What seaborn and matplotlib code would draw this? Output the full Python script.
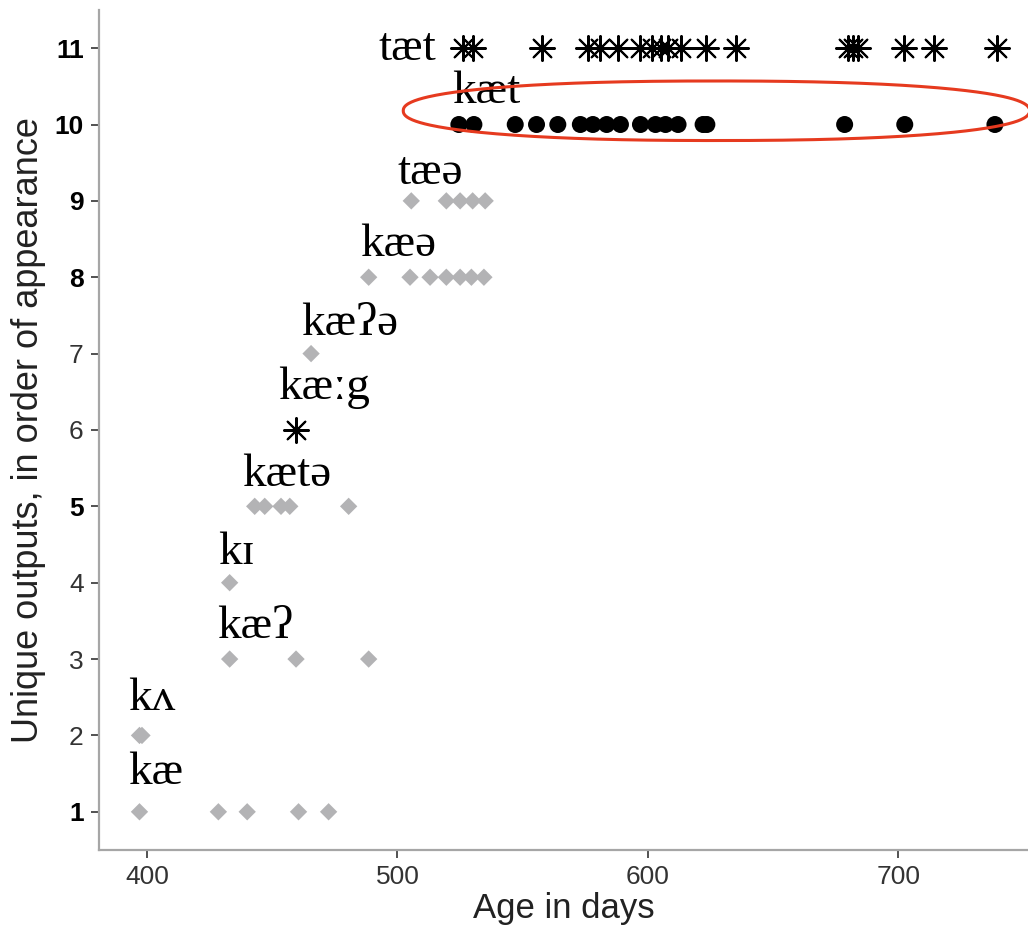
import pandas as pd
import numpy as np
import matplotlib
matplotlib.use("Agg")
import matplotlib.pyplot as plt
import seaborn as sns

# grey diamonds - earlier outputs (age in days, output number)
diamond_age = [397, 428.5, 440, 460.5, 472.5,
               397, 398,
               433, 459.5, 488.5,
               433,
               443, 447, 453.5, 457, 480.5,
               465.5,
               488.5, 505, 513, 519.5, 525, 529.5, 534.5,
               505.5, 519.5, 525, 530, 535]
diamond_out = [1, 1, 1, 1, 1,
               2, 2,
               3, 3, 3,
               4,
               5, 5, 5, 5, 5,
               7,
               8, 8, 8, 8, 8, 8, 8,
               9, 9, 9, 9, 9]

# asterisks - kæːg and tæt
star_age = [459.5,
            526, 530, 557.5, 576, 581, 588, 597, 601.5, 605, 608, 613,
            623, 635, 680, 682, 684, 702, 714, 739.5]
star_out = [6] + [11] * 19

# black dots - kæt
dot_age = [524.5, 530.5, 547, 555.5, 564, 573, 578, 583.5, 589, 597, 603,
           607, 612, 622, 623.5, 678.5, 702.5, 738.5]
dot_out = [10] * 18

# word labels
label_text = ["kæ", "kʌ", "kæʔ", "kɪ", "kætə", "kæːg", "kæʔə", "kæə", "tæə", "kæt", "tæt"]
label_x = [392.4, 392.4, 427.9, 428.4, 437.8, 452.4, 461.5, 485.0, 500.2, 521.6, 492.4]
label_y = [1.36, 2.33, 3.27, 4.25, 5.27, 6.41, 7.24, 8.28, 9.22, 10.28, 10.85]

y_ticks = [1, 2, 3, 4, 5, 6, 7, 8, 9, 10, 11]
bold_ticks = [1, 5, 8, 9, 10, 11]
x_ticks = [400, 500, 600, 700]

diamonds = pd.DataFrame({"age": diamond_age, "out": diamond_out})
stars = pd.DataFrame({"age": star_age, "out": star_out})
dots = pd.DataFrame({"age": dot_age, "out": dot_out})

sns.set_style("white")
plt.rcParams["font.family"] = ["Liberation Sans", "DejaVu Sans"]

fig = plt.figure(figsize=(10.28, 9.39), dpi=100)
ax = fig.add_axes([0.0963, 0.0948, 0.9037, 0.8946])

sns.scatterplot(data=diamonds, x="age", y="out", marker="D", s=78,
                color="#b3b3b5", edgecolor="none", ax=ax, zorder=3)
sns.scatterplot(data=dots, x="age", y="out", marker="o", s=150,
                color="black", edgecolor="none", ax=ax, zorder=3)
sns.scatterplot(data=stars, x="age", y="out", marker=(8, 2, 0), s=320,
                color="black", linewidth=1.5, ax=ax, zorder=3)

for t, x, y in zip(label_text, label_x, label_y):
    ax.text(x, y, t, ha="left", va="baseline", fontsize=34,
            family=["Liberation Serif", "DejaVu Serif"], color="black", zorder=4)

# red ring round the kæt row (slightly flattened ellipse)
th = np.linspace(0, 2 * np.pi, 400)
n = 2.3
ring_x = 627.3 + 125.0 * np.sign(np.cos(th)) * np.abs(np.cos(th)) ** (2 / n)
ring_y = 10.18 + 0.39 * np.sign(np.sin(th)) * np.abs(np.sin(th)) ** (2 / n)
ax.plot(ring_x, ring_y, color="#e63a1f", linewidth=2.2, zorder=5, clip_on=False)

ax.set_xlim(380.84, 751.7)
ax.set_ylim(0.5, 11.5)
ax.set_xticks(x_ticks)
ax.set_yticks(y_ticks)
ax.set_xticklabels([str(v) for v in x_ticks], fontsize=19, color="#333333")
ax.set_yticklabels([str(v) for v in y_ticks], fontsize=19)
for lab, v in zip(ax.get_yticklabels(), y_ticks):
    if v in bold_ticks:
        lab.set_fontweight("bold")
        lab.set_color("black")
    else:
        lab.set_color("#333333")

ax.set_xlabel("Age in days", fontsize=25, color="#222222", labelpad=2)
ax.set_ylabel("Unique outputs, in order of appearance", fontsize=26,
              color="#222222", labelpad=6)

for side in ["top", "right"]:
    ax.spines[side].set_visible(False)
for side in ["left", "bottom"]:
    ax.spines[side].set_color("#a6a6a6")
    ax.spines[side].set_linewidth(1.6)
ax.tick_params(axis="both", direction="out", length=6, width=1.2,
               color="#333333", left=True, bottom=True, pad=5)

fig.savefig("out.png", dpi=100)
